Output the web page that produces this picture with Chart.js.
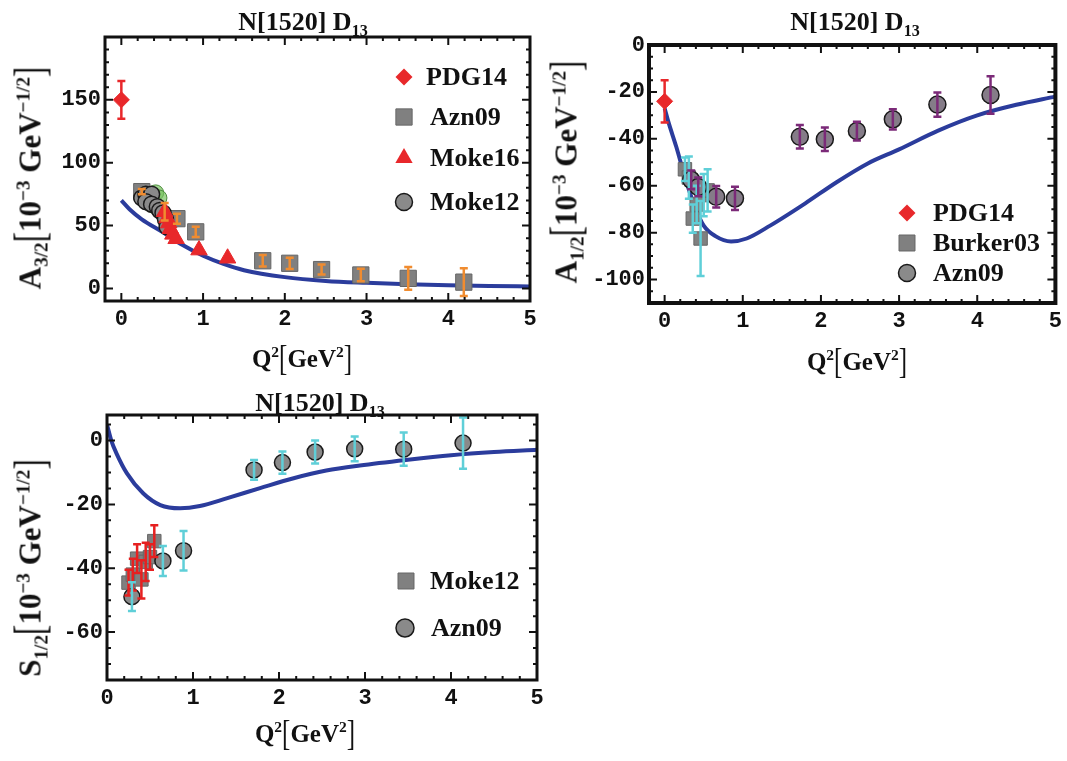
<!DOCTYPE html>
<html>
<head>
<meta charset="utf-8">
<script src="https://cdn.jsdelivr.net/npm/chart.js@4.4.1/dist/chart.umd.min.js"></script>
<style>
  body { margin: 0; background: #fff; }
  #wrap { position: relative; width: 1067px; height: 761px; overflow: hidden; background: #fff; }
  canvas { position: absolute; left: 0; top: 0; }
  .lbl { position: absolute; transform: translate(-50%, -50%); font-family: 'Liberation Serif', serif; font-weight: bold; white-space: nowrap; line-height: 1; color: #111; }
  .rot { transform: translate(-50%, -50%) rotate(-90deg); }
  .ttl { font-size: 26px; }
  .ax { font-size: 25px; }
  .ay { font-size: 31px; }
  .lbl sub, .lbl sup { font-size: 0.62em; line-height: 0; }
  .br { display: inline-block; font-weight: normal; transform: scaleY(1.4); }
</style>
</head>
<body>
<div id="wrap">
  <canvas id="pA32" width="1067" height="761"></canvas>
  <canvas id="pA12" width="1067" height="761"></canvas>
  <canvas id="pS12" width="1067" height="761"></canvas>

  <div class="lbl ttl" style="left:303px;top:22px">N[1520] D<sub>13</sub></div>
  <div class="lbl ttl" style="left:855px;top:22px">N[1520] D<sub>13</sub></div>
  <div class="lbl ttl" style="left:320px;top:403px">N[1520] D<sub>13</sub></div>

  <div class="lbl ax" style="left:302px;top:358px">Q<sup>2</sup><span class="br">[</span>GeV<sup>2</sup><span class="br">]</span></div>
  <div class="lbl ax" style="left:857px;top:361px">Q<sup>2</sup><span class="br">[</span>GeV<sup>2</sup><span class="br">]</span></div>
  <div class="lbl ax" style="left:305px;top:733px">Q<sup>2</sup><span class="br">[</span>GeV<sup>2</sup><span class="br">]</span></div>

  <div class="lbl ay rot" style="left:30px;top:178px">A<sub>3/2</sub><span class="br">[</span>10<sup>&minus;3</sup> GeV<sup>&minus;1/2</sup><span class="br">]</span></div>
  <div class="lbl ay rot" style="left:566px;top:172px">A<sub>1/2</sub><span class="br">[</span>10<sup>&minus;3</sup> GeV<sup>&minus;1/2</sup><span class="br">]</span></div>
  <div class="lbl ay rot" style="left:30px;top:568px">S<sub>1/2</sub><span class="br">[</span>10<sup>&minus;3</sup> GeV<sup>&minus;1/2</sup><span class="br">]</span></div>
</div>

<script>
// ---------- datos: A3/2 ----------
const a32CurvaQ = [0, 0.1, 0.25, 0.5, 0.75, 1, 1.25, 1.5, 2, 2.5, 3, 3.5, 4, 4.5, 5]
const a32CurvaV = [70, 63, 55, 45, 34.5, 26, 19.5, 14.5, 9, 6, 4.5, 3.4, 2.6, 2, 1.6]
const a32PdgQ = [0]
const a32PdgV = [150]
const a32PdgErr = [15]
const a32AznQ = [0.25, 0.68, 0.91, 1.73, 2.06, 2.45, 2.93, 3.51, 4.19]
const a32AznV = [77, 55.5, 45, 22, 20, 15, 10.7, 8, 5]
const a32AznErr = [2, 4, 4, 4.5, 4.5, 4, 5, 9, 11]
const a32Moke16Q = [0.53, 0.56, 0.58, 0.6, 0.63, 0.67, 0.95, 1.3]
const a32Moke16V = [61, 56, 52, 47.5, 43, 39.5, 30.5, 24]
const a32Moke16Err = [7, null, null, null, null, null, null, null]
const a32Moke12Q = [0.25, 0.3, 0.37, 0.3, 0.37, 0.44, 0.47, 0.51, 0.54, 0.56]
const a32Moke12V = [72, 75, 75, 69, 67, 65, 62, 60, 55, 49]
const a32VerdeQ = [0.42, 0.46, 0.4]
const a32VerdeV = [76, 72, 66]
const a32XTicks = [0, 1, 2, 3, 4, 5]
const a32YTicks = [0, 50, 100, 150]

// ---------- datos: A1/2 ----------
const a12CurvaQ = [0, 0.05, 0.15, 0.27, 0.4, 0.5, 0.65, 0.85, 1.05, 1.35, 1.8, 2.2, 2.6, 3, 3.5, 4, 4.5, 5]
const a12CurvaV = [-27, -33, -43.5, -57.5, -70, -77, -81.5, -83.8, -82.5, -77, -67.5, -58.5, -50.5, -44.5, -36.5, -30, -25.5, -22]
const a12PdgQ = [0]
const a12PdgV = [-24]
const a12PdgErr = [9]
const a12BurkerQ = [0.26, 0.31, 0.36, 0.41, 0.46, 0.5, 0.55]
const a12BurkerV = [-53, -56.5, -74, -68, -82.5, -64, -62]
const a12BurkerErr = [5, 9, 6, 8, 16, 9, 9]
const a12AznQ = [0.34, 0.43, 0.66, 0.9, 1.73, 2.05, 2.46, 2.92, 3.49, 4.17]
const a12AznV = [-57.5, -60.5, -64.7, -65.4, -39.1, -40.2, -36.7, -31.7, -25.4, -21.3]
const a12AznErr = [4, 4, 4.6, 5, 5, 5, 4, 4.3, 5.2, 8]
const a12XTicks = [0, 1, 2, 3, 4, 5]
const a12YTicks = [0, -20, -40, -60, -80, -100]

// ---------- datos: S1/2 ----------
const s12CurvaQ = [0, 0.05, 0.11, 0.23, 0.42, 0.62, 0.85, 1.08, 1.39, 1.78, 2.17, 2.55, 2.94, 3.5, 4, 4.5, 5]
const s12CurvaV = [5, 0, -4, -10.2, -16.5, -20.2, -21.2, -20.5, -18.1, -14.9, -11.8, -9.4, -7.8, -6, -4.6, -3.6, -2.9]
const s12MokeQ = [0.25, 0.3, 0.35, 0.4, 0.45, 0.5, 0.55]
const s12MokeV = [-44.5, -42, -37, -43.5, -38, -36.5, -31.5]
const s12MokeErr = [4, 5, 4.5, 6, 6, 4, 5]
const s12AznQ = [0.29, 0.65, 0.89, 1.71, 2.04, 2.42, 2.88, 3.45, 4.14]
const s12AznV = [-48.9, -37.7, -34.5, -9.2, -6.9, -3.6, -2.6, -2.7, -0.8]
const s12AznErr = [4.5, 4.7, 6.2, 3.1, 3.5, 3.6, 3.9, 5.2, 8]
const s12XTicks = [0, 1, 2, 3, 4, 5]
const s12YTicks = [0, -20, -40, -60]

// colores
const AZUL = '#2b3c9c'
const ROJO = '#e8282b'
const GRIS = '#808080'
const NARANJA = '#f08c30'
const MORADO = '#7b2a78'
const CIAN = '#5fcfd8'

const puntos = (qs, vs) => qs.map((q, i) => ({ x: q, y: vs[i] }))

function curva(qs, vs) {
  return {
    data: puntos(qs, vs), showLine: true, pointRadius: 0, borderColor: AZUL,
    borderWidth: 4, cubicInterpolationMode: 'monotone', order: 10
  }
}

function serie(qs, vs, estilo, radio, relleno, borde, anchoBorde, errores, colorError, orden) {
  return {
    data: puntos(qs, vs), pointStyle: estilo, pointRadius: radio,
    backgroundColor: relleno, borderColor: borde, borderWidth: anchoBorde,
    errors: errores, errorColor: colorError, order: orden
  }
}

// barras de error verticales con tapas
const barrasError = {
  id: 'barrasError',
  afterDatasetsDraw(chart) {
    const ctx = chart.ctx
    const y = chart.scales.y
    const a = chart.chartArea
    ctx.save()
    ctx.beginPath()
    ctx.rect(a.left, a.top, a.right - a.left, a.bottom - a.top)
    ctx.clip()
    chart.data.datasets.forEach((ds, i) => {
      if (!ds.errors) return
      const meta = chart.getDatasetMeta(i)
      ctx.strokeStyle = ds.errorColor
      ctx.lineWidth = 2.5
      meta.data.forEach((pt, j) => {
        const e = ds.errors[j]
        if (!e) return
        const v = ds.data[j].y
        const arriba = y.getPixelForValue(v + e)
        const abajo = y.getPixelForValue(v - e)
        ctx.beginPath()
        ctx.moveTo(pt.x, arriba); ctx.lineTo(pt.x, abajo)
        ctx.moveTo(pt.x - 4, arriba); ctx.lineTo(pt.x + 4, arriba)
        ctx.moveTo(pt.x - 4, abajo); ctx.lineTo(pt.x + 4, abajo)
        ctx.stroke()
      })
    })
    ctx.restore()
  }
}

function marcador(ctx, estilo, x, y, r, relleno, borde, ancho) {
  ctx.save()
  ctx.fillStyle = relleno
  ctx.strokeStyle = borde
  ctx.lineWidth = ancho
  ctx.beginPath()
  if (estilo === 'circle') {
    ctx.arc(x, y, r, 0, Math.PI * 2)
  } else if (estilo === 'rect') {
    const s = r * Math.SQRT1_2
    ctx.rect(x - s, y - s, 2 * s, 2 * s)
  } else if (estilo === 'rectRot') {
    ctx.moveTo(x, y - r); ctx.lineTo(x + r, y); ctx.lineTo(x, y + r); ctx.lineTo(x - r, y); ctx.closePath()
  } else {
    ctx.moveTo(x, y - r); ctx.lineTo(x + r * 0.866, y + r * 0.5); ctx.lineTo(x - r * 0.866, y + r * 0.5); ctx.closePath()
  }
  ctx.fill()
  if (ancho) ctx.stroke()
  ctx.restore()
}

// marco grueso con marcas hacia dentro (estilo Mathematica) y leyenda dentro del area
function marcoYLeyenda(p) {
  return {
    id: 'marcoYLeyenda',
    afterDraw(chart) {
      const ctx = chart.ctx
      const a = chart.chartArea
      const sx = chart.scales.x
      const sy = chart.scales.y
      ctx.save()
      ctx.strokeStyle = '#111'
      ctx.lineWidth = p.grosor
      ctx.strokeRect(a.left, a.top, a.right - a.left, a.bottom - a.top)
      ctx.lineWidth = 2
      const marcas = (min, max, paso, mayor, fn) => {
        for (let k = Math.ceil(min / paso - 1e-9); k <= Math.floor(max / paso + 1e-9); k++) {
          const v = k * paso
          const esMayor = Math.abs(v / mayor - Math.round(v / mayor)) < 1e-6
          fn(v, esMayor ? 8 : 4)
        }
      }
      ctx.beginPath()
      marcas(p.xMin, p.xMax, p.xMenor, p.xMayor, (v, l) => {
        const px = sx.getPixelForValue(v)
        ctx.moveTo(px, a.bottom); ctx.lineTo(px, a.bottom - l)
        ctx.moveTo(px, a.top); ctx.lineTo(px, a.top + l)
      })
      marcas(p.yMin, p.yMax, p.yMenor, p.yMayor, (v, l) => {
        const py = sy.getPixelForValue(v)
        ctx.moveTo(a.left, py); ctx.lineTo(a.left + l, py)
        ctx.moveTo(a.right, py); ctx.lineTo(a.right - l, py)
      })
      ctx.stroke()

      ctx.font = "bold 26px 'Liberation Serif'"
      ctx.textBaseline = 'middle'
      p.leyenda.forEach(it => {
        marcador(ctx, it.estilo, it.mx, it.y, it.r, it.relleno, it.borde, it.ancho)
        ctx.fillStyle = '#111'
        ctx.fillText(it.texto, it.tx, it.y + 1)
      })
      ctx.restore()
    }
  }
}

function armarPanel(id, p) {
  const yW = 56
  const xH = 34
  const m = p.marco
  const fuente = { family: "'Liberation Mono', monospace", size: 22, weight: 'bold' }
  const ctx = document.getElementById(id).getContext('2d')
  return new Chart(ctx, {
    type: 'scatter',
    data: { datasets: p.datasets },
    options: {
      responsive: false,
      animation: false,
      events: [],
      layout: { padding: { left: m.left - yW, top: m.top, right: 1067 - m.right, bottom: 761 - m.bottom - xH } },
      plugins: { legend: { display: false }, tooltip: { enabled: false } },
      scales: {
        x: {
          type: 'linear', min: p.xMin, max: p.xMax,
          afterFit: s => { s.height = xH },
          afterBuildTicks: s => { s.ticks = p.xTicks.map(v => ({ value: v })) },
          grid: { display: false, drawTicks: false },
          border: { display: false },
          ticks: { font: fuente, color: '#111', padding: 5, maxRotation: 0, autoSkip: false }
        },
        y: {
          type: 'linear', min: p.yMin, max: p.yMax,
          afterFit: s => { s.width = yW },
          afterBuildTicks: s => { s.ticks = p.yTicks.map(v => ({ value: v })) },
          grid: { display: false, drawTicks: false },
          border: { display: false },
          ticks: { font: fuente, color: '#111', padding: 4, autoSkip: false }
        }
      }
    },
    plugins: [barrasError, marcoYLeyenda(p)]
  })
}

armarPanel('pA32', {
  marco: { left: 105, top: 37, right: 530, bottom: 301 },
  xMin: -0.2, xMax: 5, yMin: -10, yMax: 200,
  xTicks: a32XTicks, yTicks: a32YTicks,
  xMayor: 1, xMenor: 0.2, yMayor: 50, yMenor: 10, grosor: 3,
  datasets: [
    curva(a32CurvaQ, a32CurvaV),
    serie(a32AznQ, a32AznV, 'rect', 11.5, GRIS, '#666', 1, a32AznErr, NARANJA, 5),
    serie(a32VerdeQ, a32VerdeV, 'circle', 8, 'rgba(120,195,95,0.7)', '#4a8a3a', 1, null, null, 4),
    serie(a32Moke12Q, a32Moke12V, 'circle', 8, '#8a8a8a', '#1a1a1a', 1.5, null, null, 3),
    serie(a32Moke16Q, a32Moke16V, 'triangle', 9.5, ROJO, ROJO, 1, a32Moke16Err, NARANJA, 2),
    serie(a32PdgQ, a32PdgV, 'rectRot', 8, ROJO, ROJO, 1, a32PdgErr, ROJO, 1)
  ],
  leyenda: [
    { texto: 'PDG14', estilo: 'rectRot', mx: 404, tx: 426, y: 77, r: 8.5, relleno: ROJO, borde: ROJO, ancho: 0 },
    { texto: 'Azn09', estilo: 'rect', mx: 404, tx: 430, y: 117, r: 11.5, relleno: GRIS, borde: '#666', ancho: 1 },
    { texto: 'Moke16', estilo: 'triangle', mx: 404, tx: 430, y: 158, r: 10, relleno: ROJO, borde: ROJO, ancho: 0 },
    { texto: 'Moke12', estilo: 'circle', mx: 404, tx: 430, y: 202, r: 8.5, relleno: '#8a8a8a', borde: '#1a1a1a', ancho: 1.5 }
  ]
})

armarPanel('pA12', {
  marco: { left: 649, top: 45, right: 1061, bottom: 303 },
  xMin: -0.2, xMax: 5, yMin: -110, yMax: 0,
  xTicks: a12XTicks, yTicks: a12YTicks,
  xMayor: 1, xMenor: 0.2, yMayor: 20, yMenor: 5, grosor: 4,
  datasets: [
    curva(a12CurvaQ, a12CurvaV),
    serie(a12BurkerQ, a12BurkerV, 'rect', 9.5, GRIS, '#666', 1, a12BurkerErr, CIAN, 5),
    serie(a12AznQ, a12AznV, 'circle', 8.5, '#857c88', '#1a1a1a', 1.5, a12AznErr, MORADO, 4),
    serie(a12PdgQ, a12PdgV, 'rectRot', 8, ROJO, ROJO, 1, a12PdgErr, ROJO, 1)
  ],
  leyenda: [
    { texto: 'PDG14', estilo: 'rectRot', mx: 907, tx: 933, y: 213, r: 8.5, relleno: ROJO, borde: ROJO, ancho: 0 },
    { texto: 'Burker03', estilo: 'rect', mx: 907, tx: 933, y: 243, r: 11.3, relleno: GRIS, borde: '#666', ancho: 1 },
    { texto: 'Azn09', estilo: 'circle', mx: 907, tx: 933, y: 273, r: 8.5, relleno: '#8a8a8a', borde: '#1a1a1a', ancho: 1.5 }
  ]
})

armarPanel('pS12', {
  marco: { left: 107, top: 415, right: 537, bottom: 680 },
  xMin: 0, xMax: 5, yMin: -75, yMax: 8,
  xTicks: s12XTicks, yTicks: s12YTicks,
  xMayor: 1, xMenor: 0.2, yMayor: 20, yMenor: 5, grosor: 3,
  datasets: [
    curva(s12CurvaQ, s12CurvaV),
    serie(s12MokeQ, s12MokeV, 'rect', 9.5, GRIS, '#666', 1, s12MokeErr, '#e62020', 5),
    serie(s12AznQ, s12AznV, 'circle', 8, '#8a8a8a', '#1a1a1a', 1.5, s12AznErr, CIAN, 4)
  ],
  leyenda: [
    { texto: 'Moke12', estilo: 'rect', mx: 406, tx: 430, y: 581, r: 11.3, relleno: GRIS, borde: '#666', ancho: 1 },
    { texto: 'Azn09', estilo: 'circle', mx: 405, tx: 431, y: 628, r: 9, relleno: '#8a8a8a', borde: '#1a1a1a', ancho: 1.5 }
  ]
})
</script>
</body>
</html>
